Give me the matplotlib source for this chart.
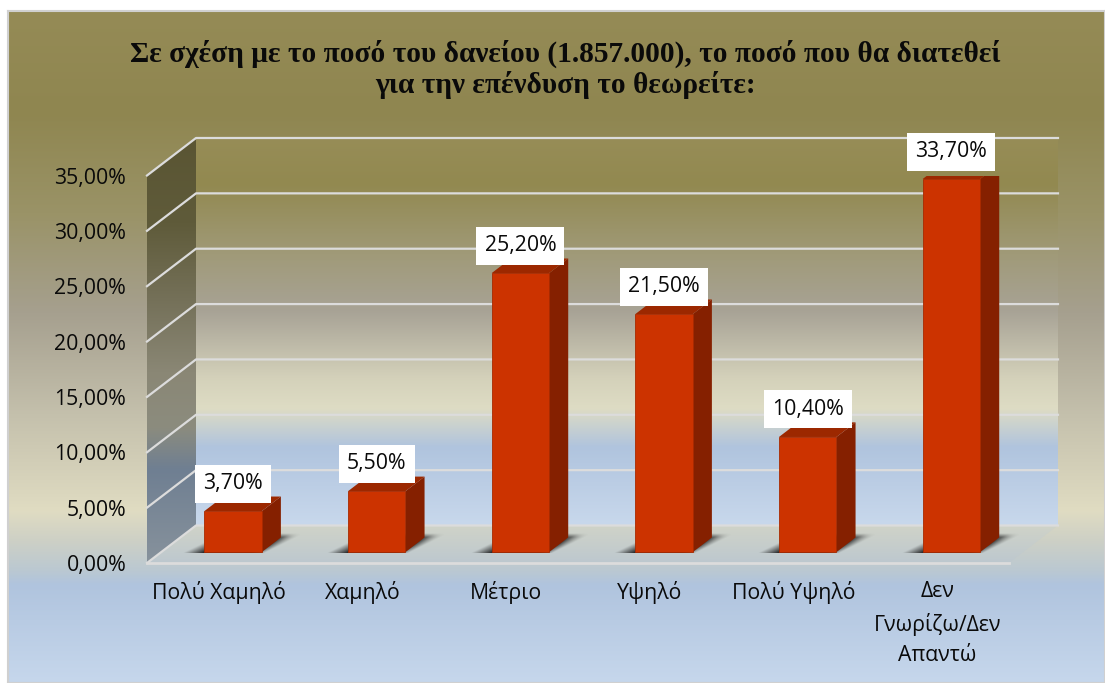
import numpy as np
import matplotlib
matplotlib.use('Agg')
import matplotlib.pyplot as plt
from matplotlib.colors import LinearSegmentedColormap
from matplotlib.patches import Polygon, Rectangle

# Data
categories = ['Πολύ Χαμηλό', 'Χαμηλό', 'Μέτριο', 'Υψηλό', 'Πολύ Υψηλό', 'Δεν\nΓνωρίζω/Δεν\nΑπαντώ']
values = [3.7, 5.5, 25.2, 21.5, 10.4, 33.7]
value_labels = ['3,70%', '5,50%', '25,20%', '21,50%', '10,40%', '33,70%']
y_ticks = [0, 5, 10, 15, 20, 25, 30, 35]
y_tick_labels = ['0,00%', '5,00%', '10,00%', '15,00%', '20,00%', '25,00%', '30,00%', '35,00%']
title = 'Σε σχέση με το ποσό του δανείου (1.857.000), το ποσό που θα διατεθεί\nγια την επένδυση το θεωρείτε:'

W, H = 1105, 683
plt.rcParams['font.family'] = ['Open Sans', 'DejaVu Sans']

# Gradients, top to bottom
outer_cm = LinearSegmentedColormap.from_list('outer', [
    (0.0, '#958b56'), (0.15, '#8f8650'), (0.3, '#9a9367'), (0.45, '#a6a08f'),
    (0.6, '#c4c0ac'), (0.745, '#e0dcc2'), (0.79, '#cdd0c6'), (0.835, '#bac8d2'), (0.855, '#b0c4de'), (1.0, '#c6d7ec')])
wall_cm = LinearSegmentedColormap.from_list('wall', [
    (0.0, '#978d57'), (0.12, '#928950'), (0.3, '#a09a78'), (0.45, '#a8a396'),
    (0.62, '#d4d1ba'), (0.7, '#dedcc4'), (0.8, '#b0c4de'), (1.0, '#c8d8ec')])
side_cm = LinearSegmentedColormap.from_list('side', [
    (0.0, '#5a5533'), (0.2, '#5f5b3a'), (0.4, '#77735c'), (0.55, '#8a8775'),
    (0.68, '#8c8c7e'), (0.78, '#6f7f92'), (1.0, '#87929c')])
floor_cm = LinearSegmentedColormap.from_list('floor', ['#d0d3c8', '#bdc8cf'])

BAR_COLOR = '#cc3300'
SIDE_COLOR = '#852000'
TOP_COLOR = '#9c2800'
GRID_COLOR = '#dcdcdc'
FONT_SIZE = 15.3

fig = plt.figure(figsize=(W / 100, H / 100), dpi=100, facecolor='white')

# Chart area background
bg = fig.add_axes([8 / W, 0, (W - 8) / W, (H - 11) / H])
bg.imshow(np.linspace(0, 1, 256)[:, None], cmap=outer_cm, aspect='auto')
bg.set_xticks([])
bg.set_yticks([])
for s in bg.spines.values():
    s.set_color('#d0d0d0')
    s.set_linewidth(1.5)

# Plot axes, front edge of the 3D box
left, right, y0, y35 = 147, 1009, 563, 175.5
ax = fig.add_axes([left / W, (H - y0) / H, (right - left) / W, (y0 - y35) / H])
ax.set_xlim(-0.5, 5.5)
ax.set_ylim(0, 35)
ax.patch.set_visible(False)
for s in ax.spines.values():
    s.set_visible(False)

x_per_px = 6 / (right - left)
y_per_px = 35 / (y0 - y35)
DEPTH_X = 49 * x_per_px
DEPTH_Y = 37.5 * y_per_px


def proj(x, y, d):
    # d is depth into the box: 0 front, 1 back wall
    return x + d * DEPTH_X, y + d * DEPTH_Y


def grad_poly(pts, cmap, zorder=1):
    xs = [p[0] for p in pts]
    ys = [p[1] for p in pts]
    im = ax.imshow(np.linspace(0, 1, 256)[:, None], cmap=cmap, aspect='auto',
                   extent=[min(xs), max(xs), min(ys), max(ys)], zorder=zorder)
    im.set_clip_path(Polygon(pts, closed=True, transform=ax.transData))
    im.set_clip_box(fig.bbox)
    return im


# Walls and floor
grad_poly([proj(-0.5, 0, 1), proj(5.5, 0, 1), proj(5.5, 35, 1), proj(-0.5, 35, 1)], wall_cm)
grad_poly([proj(-0.5, 0, 0), proj(-0.5, 0, 1), proj(-0.5, 35, 1), proj(-0.5, 35, 0)], side_cm)
grad_poly([proj(-0.5, 0, 0), proj(5.5, 0, 0), proj(5.5, 0, 1), proj(-0.5, 0, 1)], floor_cm)

# Grid lines on walls
for t in y_ticks:
    a = proj(-0.5, t, 0)
    b = proj(-0.5, t, 1)
    c = proj(5.5, t, 1)
    ax.plot([a[0], b[0], c[0]], [a[1], b[1], c[1]], color=GRID_COLOR, lw=1.6, zorder=2, clip_on=False)
ax.plot([-0.5, 5.5], [0, 0], color=GRID_COLOR, lw=2, zorder=2, clip_on=False)

# Bars
D1, D2 = 0.29, 0.68
BAR_W = 0.4
gx, gy = np.meshgrid(np.linspace(0, 1, 252), np.linspace(0, 1, 40))
u = (gx - 0.33 * (1 - gy)) / 0.67
shadow = np.zeros((40, 252, 4))
shadow[..., :3] = 0.12
shadow[..., 3] = np.clip(u * 4, 0, 1) * np.clip((1 - u) * 6, 0, 1) * np.clip((1 - gx) * 3.5, 0, 1) * np.clip(gy * 5, 0, 1) * 0.95

for i, v in enumerate(values):
    x1, x2 = i - BAR_W / 2, i + BAR_W / 2
    fx1, fy1 = proj(x1, 0, D1)
    fx2, fy2 = proj(x2, v, D1)

    # soft shadow on the floor, sheared towards the back
    sim = ax.imshow(shadow, aspect='auto', origin='upper', zorder=3, interpolation='bilinear',
                    extent=[fx1 - 21 * x_per_px, fx2 + 43 * x_per_px, fy1 - 1 * y_per_px, fy1 + 19 * y_per_px])
    sim.set_clip_on(False)

    ax.bar(fx1, v, width=fx2 - fx1, bottom=fy1, align='edge', color=BAR_COLOR,
           edgecolor='#a82a00', linewidth=0.6, zorder=5)
    ax.fill(*zip(proj(x2, 0, D1), proj(x2, 0, D2), proj(x2, v, D2), proj(x2, v, D1)),
            color=SIDE_COLOR, lw=0, zorder=4)
    ax.fill(*zip(proj(x1, v, D1), proj(x2, v, D1), proj(x2, v, D2), proj(x1, v, D2)),
            color=TOP_COLOR, lw=0, zorder=4)

    # value label on a white box
    lw_px = 16 + 12 * len(value_labels[i])
    cx, cy = (fx1 + fx2) / 2, fy1 + v + 27.5 * y_per_px
    ax.add_patch(Rectangle((cx - lw_px / 2 * x_per_px, cy - 19 * y_per_px), lw_px * x_per_px, 38 * y_per_px,
                           fc='white', ec='none', zorder=7, clip_on=False))
    ax.text(cx, cy, value_labels[i], ha='center', va='center', fontsize=FONT_SIZE, color='#0a0a0a',
            zorder=8, clip_on=False)

# Axis labels
ax.set_yticks(y_ticks)
ax.set_yticklabels(y_tick_labels, fontsize=FONT_SIZE, color='#0a0a0a')
ax.set_xticks(range(len(categories)))
ax.set_xticklabels(categories, fontsize=FONT_SIZE, color='#0a0a0a', linespacing=1.6)
ax.tick_params(axis='y', length=0, pad=15)
ax.tick_params(axis='x', length=0, pad=13)

# Title
fig.text(565 / W, 1 - 69 / H, title, ha='center', va='center', fontsize=21.2, fontweight='bold',
         family='Liberation Serif', color='#0a0a0a', linespacing=1.15)

fig.savefig('out.png', dpi=100)
